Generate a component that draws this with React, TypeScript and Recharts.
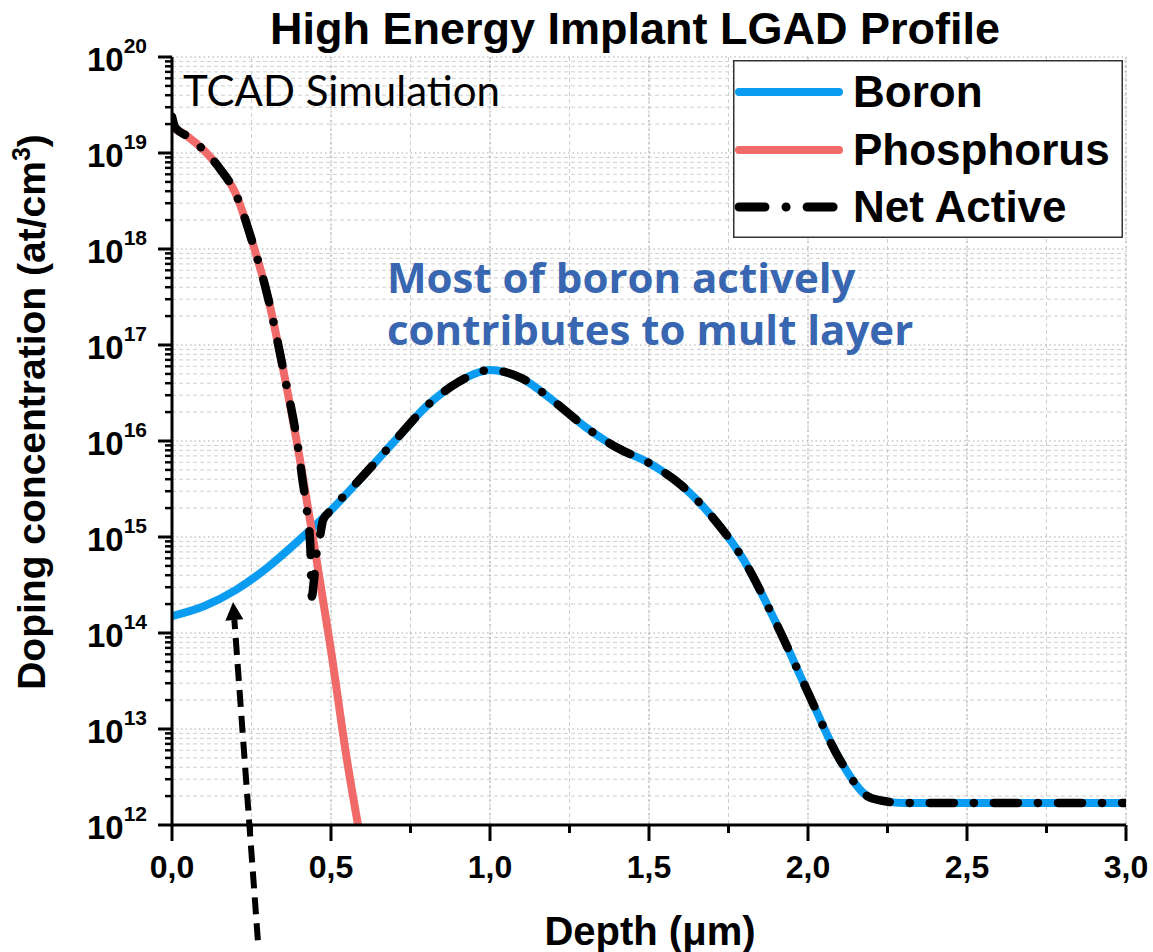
import React from "react";
import {
  CartesianGrid,
  Customized,
  Legend,
  Line,
  LineChart,
  ReferenceLine,
  XAxis,
  YAxis,
} from "recharts";

// depth in um, concentration in at/cm3
const boronDepth = [0, 0.1, 0.2, 0.3, 0.4, 0.5, 0.6, 0.7, 0.8, 0.9, 0.95, 1.0, 1.05, 1.1, 1.2, 1.3, 1.4, 1.5, 1.6, 1.7, 1.8, 1.9, 2.0, 2.1, 2.2, 2.3, 2.5, 3.0];
const boronConc = [1.5e14, 1.9e14, 2.8e14, 4.8e14, 9.3e14, 1.9e15, 4.3e15, 1.0e16, 2.3e16, 4.1e16, 5.0e16, 5.5e16, 5.2e16, 4.5e16, 2.6e16, 1.4e16, 8.5e15, 5.9e15, 3.5e15, 1.6e15, 5.6e14, 1.26e14, 2.4e13, 4.8e12, 1.9e12, 1.7e12, 1.7e12, 1.7e12];

const phosDepth = [0, 0.05, 0.1, 0.15, 0.2, 0.25, 0.3, 0.35, 0.4, 0.45, 0.5, 0.55, 0.585];
const phosConc = [1.86e19, 1.48e19, 1.07e19, 6.9e18, 3.8e18, 1.26e18, 3.3e17, 5.5e16, 7.1e15, 7.2e14, 6.6e13, 4.8e12, 1.0e12];

const netDepth = [0, 0.01, 0.05, 0.1, 0.15, 0.2, 0.25, 0.3, 0.35, 0.4, 0.41, 0.425, 0.435, 0.44, 0.445, 0.455, 0.465, 0.475, 0.5, 0.6, 0.7, 0.8, 0.9, 0.95, 1.0, 1.05, 1.1, 1.2, 1.3, 1.4, 1.5, 1.6, 1.7, 1.8, 1.9, 2.0, 2.1, 2.2, 2.3, 2.5, 3.0];
const netConc = [2.4e19, 1.85e19, 1.48e19, 1.07e19, 6.9e18, 3.8e18, 1.26e18, 3.3e17, 5.5e16, 7.1e15, 4.0e15, 1.8e15, 8.0e14, 2.4e14, 3.2e14, 7.0e14, 1.0e15, 1.5e15, 1.9e15, 4.3e15, 1.0e16, 2.3e16, 4.1e16, 5.0e16, 5.5e16, 5.2e16, 4.5e16, 2.6e16, 1.4e16, 8.5e15, 5.9e15, 3.5e15, 1.6e15, 5.6e14, 1.26e14, 2.4e13, 4.8e12, 1.9e12, 1.7e12, 1.7e12, 1.7e12];

const xTicks = [0, 0.25, 0.5, 0.75, 1, 1.25, 1.5, 1.75, 2, 2.25, 2.5, 2.75, 3];
const xMajor = [0.5, 1, 1.5, 2, 2.5, 3];
const decades = [1e12, 1e13, 1e14, 1e15, 1e16, 1e17, 1e18, 1e19, 1e20];
const minorMult = [2, 3, 4, 5, 6, 7, 8, 9];
const yMinor = decades.slice(0, -1).flatMap((d) => minorMult.map((m) => m * d));
const yTicks = [...decades, ...yMinor].sort((a, b) => a - b);

// arrow annotation: tail below the axis, head touching the boron curve
const arrowTail = { x: 0.27, y: 6.3e10 };
const arrowHead = { x: 0.192, y: 2.1e14 };

const series = [
  { name: "Boron", color: "#0A9CF0", width: 8, dash: undefined as string | undefined },
  { name: "Phosphorus", color: "#F06A6A", width: 8, dash: undefined as string | undefined },
  { name: "Net Active", color: "#000000", width: 8.5, dash: "24 20 0.1 20" },
];

const toPoints = (xs: number[], ys: number[]) => xs.map((x, i) => ({ x, y: ys[i] }));
const boronData = toPoints(boronDepth, boronConc);
const phosData = toPoints(phosDepth, phosConc);
const netData = toPoints(netDepth, netConc);

const FONT = "'Liberation Sans', Arial, sans-serif";
const SANS = "Lato, 'Open Sans', sans-serif";
const NOTE = "'Open Sans', Lato, sans-serif";

function YTick({ x, y, payload }: any) {
  const v = payload.value as number;
  const lg = Math.log10(v);
  const e = Math.round(lg);
  const major = Math.abs(lg - e) < 1e-6;
  return (
    <g>
      <line x1={x} x2={x - (major ? 14 : 7)} y1={y} y2={y} stroke="#000" strokeWidth={major ? 3 : 2.5} />
      {major && (
        <text x={x - 25} y={y + 14} textAnchor="end" fontFamily={FONT} fontWeight="bold" fontSize={33} fill="#000">
          10
          <tspan dy={-18} fontSize={21}>{e}</tspan>
        </text>
      )}
    </g>
  );
}

function XTick({ x, y, payload }: any) {
  const v = payload.value as number;
  const major = Math.abs(v * 2 - Math.round(v * 2)) < 1e-6;
  return (
    <g>
      <line x1={x} x2={x} y1={y} y2={y + (major ? 16 : 8)} stroke="#000" strokeWidth={3} />
      {major && (
        <text x={x} y={y + 53} textAnchor="middle" fontFamily={FONT} fontWeight="bold" fontSize={32} fill="#000">
          {v.toFixed(1).replace(".", ",")}
        </text>
      )}
    </g>
  );
}

function ArrowShape(props: any) {
  const { x1, y1, x2, y2 } = props;
  const dx = x2 - x1;
  const dy = y2 - y1;
  const len = Math.sqrt(dx * dx + dy * dy);
  const ux = dx / len;
  const uy = dy / len;
  const headLen = 18;
  const half = 9;
  const bx = x2 - ux * headLen;
  const by = y2 - uy * headLen;
  return (
    <g>
      <line x1={x1} y1={y1} x2={bx} y2={by} stroke="#000" strokeWidth={6} strokeDasharray="17 9" />
      <polygon
        points={`${x2},${y2} ${bx - uy * half},${by + ux * half} ${bx + uy * half},${by - ux * half}`}
        fill="#000"
      />
    </g>
  );
}

function LegendBox() {
  const rows = [32, 90, 147];
  return (
    <svg width={390} height={178}>
      <rect x={0.75} y={0.75} width={388.5} height={176.5} fill="#fff" stroke="#333" strokeWidth={1.5} />
      {series.map((s, i) => (
        <g key={s.name}>
          <line
            x1={6}
            x2={106}
            y1={rows[i]}
            y2={rows[i]}
            stroke={s.color}
            strokeWidth={s.dash ? 9 : 8}
            strokeLinecap="round"
            strokeDasharray={s.dash ? "26 21 0.1 21" : undefined}
          />
          <text x={120} y={rows[i] + 15} fontFamily={FONT} fontWeight="bold" fontSize={44} fill="#000">
            {s.name}
          </text>
        </g>
      ))}
    </svg>
  );
}

function Annotations() {
  return (
    <g>
      <text x={635} y={44} textAnchor="middle" fontFamily={FONT} fontWeight="bold" fontSize={45} fill="#000">
        High Energy Implant LGAD Profile
      </text>
      <text x={183} y={106} fontFamily={SANS} fontSize={42} fill="#000">
        TCAD Simulation
      </text>
      <text fontFamily={NOTE} fontWeight="bold" fontSize={42} fill="#3866B0">
        <tspan x={387} y={293}>Most of boron actively</tspan>
        <tspan x={387} y={345}>contributes to mult layer</tspan>
      </text>
    </g>
  );
}

export default function App() {
  return (
    <div style={{ position: "absolute", left: 0, top: 0, width: 1153, height: 952, background: "#fff" }}>
      <LineChart width={1153} height={952} margin={{ top: 57, right: 27, left: 0, bottom: 0 }}>
        <CartesianGrid horizontalValues={yMinor} verticalValues={xTicks} stroke="#cfcfcf" strokeDasharray="4 3" />
        <CartesianGrid horizontalValues={decades} verticalValues={xMajor} stroke="#a8a8a8" strokeDasharray="1.5 3" />
        <XAxis
          type="number"
          dataKey="x"
          domain={[0, 3]}
          ticks={xTicks}
          allowDataOverflow
          height={127}
          tickSize={0}
          tickMargin={0}
          tickLine={false}
          tick={<XTick />}
          axisLine={{ stroke: "#000", strokeWidth: 3 }}
          label={{
            content: ({ viewBox }: any) => (
              <text
                x={viewBox.x + viewBox.width / 2 + 1}
                y={viewBox.y + 120}
                textAnchor="middle"
                fontFamily={FONT}
                fontWeight="bold"
                fontSize={40}
                fill="#000"
              >
                Depth (μm)
              </text>
            ),
          }}
        />
        <YAxis
          type="number"
          scale="log"
          domain={[1e12, 1e20]}
          ticks={yTicks}
          allowDataOverflow
          width={172}
          tickSize={0}
          tickMargin={0}
          tickLine={false}
          tick={<YTick />}
          interval={0}
          axisLine={{ stroke: "#000", strokeWidth: 3 }}
          label={{
            content: ({ viewBox }: any) => {
              const cx = viewBox.x + 45;
              const cy = viewBox.y + viewBox.height / 2 - 29;
              return (
                <text
                  x={cx}
                  y={cy}
                  textAnchor="middle"
                  transform={`rotate(-90, ${cx}, ${cy})`}
                  fontFamily={FONT}
                  fontWeight="bold"
                  fontSize={39}
                  fill="#000"
                >
                  Doping concentration (at/cm
                  <tspan dy={-15} fontSize={25}>3</tspan>
                  <tspan dy={15}>)</tspan>
                </text>
              );
            },
          }}
        />
        <Line
          data={boronData}
          dataKey="y"
          name="Boron"
          type="monotone"
          stroke={series[0].color}
          strokeWidth={series[0].width}
          dot={false}
          isAnimationActive={false}
        />
        <Line
          data={phosData}
          dataKey="y"
          name="Phosphorus"
          type="monotone"
          stroke={series[1].color}
          strokeWidth={series[1].width}
          dot={false}
          isAnimationActive={false}
        />
        <Line
          data={netData}
          dataKey="y"
          name="Net Active"
          type="monotone"
          stroke={series[2].color}
          strokeWidth={series[2].width}
          strokeDasharray={series[2].dash}
          strokeLinecap="round"
          dot={false}
          isAnimationActive={false}
        />
        <ReferenceLine segment={[arrowTail, arrowHead]} ifOverflow="visible" shape={(p: any) => <ArrowShape {...p} />} />
        <Legend
          layout="vertical"
          align="center"
          verticalAlign="middle"
          content={() => <LegendBox />}
          wrapperStyle={{ top: 60, left: 733, width: 390, height: 178 }}
        />
        <Customized component={<Annotations />} />
      </LineChart>
    </div>
  );
}
